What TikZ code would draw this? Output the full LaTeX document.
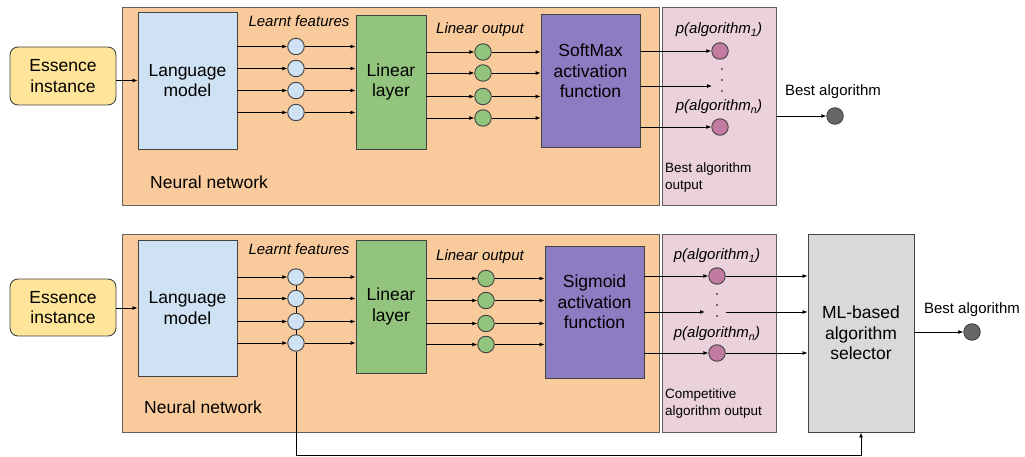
\documentclass[tikz,border=0pt]{standalone}
\usepackage{fontspec}
\setmainfont{Liberation Sans}
\usetikzlibrary{arrows.meta}
\definecolor{cOrange}{HTML}{F9CB9C}
\definecolor{cPink}{HTML}{EAD1DC}
\definecolor{cYellow}{HTML}{FFE599}
\definecolor{cBlue}{HTML}{CFE2F3}
\definecolor{cGreen}{HTML}{93C47D}
\definecolor{cPurple}{HTML}{8E7CC3}
\definecolor{cGray}{HTML}{D9D9D9}
\definecolor{cMag}{HTML}{C27BA0}
\definecolor{cDark}{HTML}{666666}
\definecolor{cLine}{HTML}{434343}
\tikzset{
  box/.style={draw=cLine, line width=0.9pt, inner sep=0pt, align=center, font=\fontsize{17.5}{20.5}\selectfont},
  panel/.style={draw=cLine!85, line width=0.9pt, inner sep=0pt},
  neuron/.style={circle, draw=cLine, line width=0.9pt, minimum size=16.5pt, inner sep=0pt},
  arr/.style={-{Latex[length=5pt,width=4pt]}, line width=0.8pt, draw=black},
  conn/.style={line width=0.8pt, draw=black},
  itl/.style={font=\fontsize{15}{17}\selectfont\itshape, inner sep=0pt},
  lbl/.style={font=\fontsize{15}{18}\selectfont, inner sep=0pt},
  mysmall/.style={font=\fontsize{13.5}{17}\selectfont, inner sep=0pt, align=left},
  mylarge/.style={font=\fontsize{17.5}{20.5}\selectfont, inner sep=0pt, align=center},
  dotmark/.style={fill=black},
}
\begin{document}
\begin{tikzpicture}[x=1pt,y=-1pt]
\useasboundingbox (0,0) rectangle (1025,457);
% ================= TOP =================
\node[panel, fill=cOrange, minimum width=537pt, minimum height=198pt] (nn1) at (390.5,106) {};
\node[panel, fill=cPink, minimum width=114pt, minimum height=198pt] (out1) at (719,106) {};
\node[box, fill=cYellow, rounded corners=8pt, minimum width=106pt, minimum height=58pt] (ess1) at (63,76) {Essence\\instance};
\node[box, fill=cBlue, minimum width=99pt, minimum height=137pt] (lm1) at (187.5,80.5) {Language\\model};
\node[box, fill=cGreen, minimum width=70pt, minimum height=134pt] (ll1) at (391,82) {Linear\\layer};
\node[box, fill=cPurple, minimum width=99pt, minimum height=133pt] (sm1) at (590.5,80.5) {};
\node[mylarge] (sm1t) at (590.5,71) {SoftMax\\activation\\function};
\node[mylarge, anchor=west] (nnl1) at (150,182) {Neural network};
\node[itl] (lf1) at (299,21) {Learnt features};
\node[itl] (lo1) at (480,30) {Linear output};
\node[itl] (pa11) at (719,30) {p(algorithm\textsubscript{1})};
\node[itl] (pa1n) at (719,107) {p(algorithm\textsubscript{n})};
\node[mysmall, anchor=west] (bao) at (665,177.5) {Best algorithm\\output};
\node[lbl] (bal1) at (833,92) {Best algorithm};

\node[neuron, fill=cBlue] (b11) at (296,46.5) {};
\node[neuron, fill=cBlue] (b12) at (296,68.5) {};
\node[neuron, fill=cBlue] (b13) at (296,90.5) {};
\node[neuron, fill=cBlue] (b14) at (296,112.5) {};
\node[neuron, fill=cGreen] (g11) at (483,52) {};
\node[neuron, fill=cGreen] (g12) at (483,73) {};
\node[neuron, fill=cGreen] (g13) at (483,96.5) {};
\node[neuron, fill=cGreen] (g14) at (483,118) {};
\node[neuron, fill=cMag] (p11) at (720,51) {};
\node[neuron, fill=cMag] (p1n) at (720,127) {};
\node[neuron, fill=cDark] (best1) at (835,116) {};
\coordinate (m1) at (712,86);

\draw[arr] (ess1.east |- lm1.west) -- (lm1.west);
\foreach \i in {1,2,3,4}{
  \draw[arr] (lm1.east |- b1\i) -- (b1\i.west);
  \draw[arr] (b1\i.east) -- (ll1.west |- b1\i);
  \draw[arr] (ll1.east |- g1\i) -- (g1\i.west);
  \draw[arr] (g1\i.east) -- (sm1.west |- g1\i);
}
\draw[arr] (sm1.east |- p11) -- (p11.west);
\draw[arr] (sm1.east |- m1) -- (m1);
\draw[arr] (sm1.east |- p1n) -- (p1n.west);
\draw[arr] (out1.east |- best1) -- (best1.west);
\fill[dotmark] (722,69) circle (0.9pt) (722,80) circle (0.9pt) (722,91) circle (0.9pt);

% ================= BOTTOM =================
\node[panel, fill=cOrange, minimum width=537pt, minimum height=198pt] (nn2) at (390.5,333) {};
\node[panel, fill=cPink, minimum width=114pt, minimum height=198pt] (out2) at (719,333) {};
\node[box, fill=cGray, minimum width=106pt, minimum height=198pt] (sel) at (861,333) {ML-based\\algorithm\\selector};
\node[box, fill=cYellow, rounded corners=8pt, minimum width=106pt, minimum height=57pt] (ess2) at (63,307.5) {Essence\\instance};
\node[box, fill=cBlue, minimum width=99pt, minimum height=136pt] (lm2) at (187.5,308) {Language\\model};
\node[box, fill=cGreen, minimum width=70pt, minimum height=133pt] (ll2) at (391,306.5) {Linear\\layer};
\node[box, fill=cPurple, minimum width=99pt, minimum height=132pt] (sg2) at (594.5,312) {};
\node[mylarge] (sg2t) at (594.5,302) {Sigmoid\\activation\\function};
\node[mylarge, anchor=west] (nnl2) at (144,407) {Neural network};
\node[itl] (lf2) at (299,249) {Learnt features};
\node[itl] (lo2) at (480,257) {Linear output};
\node[itl] (pa21) at (717,256) {p(algorithm\textsubscript{1})};
\node[itl] (pa2n) at (717,334) {p(algorithm\textsubscript{n})};
\node[mysmall, anchor=west] (cao) at (665,404) {Competitive\\algorithm output};
\node[lbl] (bal2) at (972,310) {Best algorithm};

\draw[conn] (296,277) -- (296,343);
\node[neuron, fill=cBlue] (b21) at (296,277) {};
\node[neuron, fill=cBlue] (b22) at (296,298.5) {};
\node[neuron, fill=cBlue] (b23) at (296,321.5) {};
\node[neuron, fill=cBlue] (b24) at (296,343) {};
\node[neuron, fill=cGreen] (g21) at (486,278.5) {};
\node[neuron, fill=cGreen] (g22) at (486,300.5) {};
\node[neuron, fill=cGreen] (g23) at (486,323.5) {};
\node[neuron, fill=cGreen] (g24) at (486,344.5) {};
\node[neuron, fill=cMag] (p21) at (717,276) {};
\node[neuron, fill=cMag] (p2n) at (717,353) {};
\node[neuron, fill=cDark] (best2) at (972,332) {};
\coordinate (m2a) at (705,312);
\coordinate (m2b) at (726,312);
\coordinate (fbc) at (861,455);

\draw[arr] (ess2.east |- lm2.west) -- (lm2.west);
\foreach \i in {1,2,3,4}{
  \draw[arr] (lm2.east |- b2\i) -- (b2\i.west);
  \draw[arr] (b2\i.east) -- (ll2.west |- b2\i);
  \draw[arr] (ll2.east |- g2\i) -- (g2\i.west);
  \draw[arr] (g2\i.east) -- (sg2.west |- g2\i);
}
\draw[arr] (sg2.east |- p21) -- (p21.west);
\draw[arr] (p21.east) -- (sel.west |- p21);
\draw[arr] (sg2.east |- m2a) -- (m2a);
\draw[arr] (m2b) -- (sel.west |- m2b);
\draw[arr] (sg2.east |- p2n) -- (p2n.west);
\draw[arr] (p2n.east) -- (sel.west |- p2n);
\draw[arr] (sel.east |- best2) -- (best2.west);
\draw[arr, line width=1pt] (b24.south) |- (fbc) -- (sel.south);
\fill[dotmark] (717,294) circle (0.9pt) (717,305) circle (0.9pt) (717,316) circle (0.9pt);
\end{tikzpicture}
\end{document}
